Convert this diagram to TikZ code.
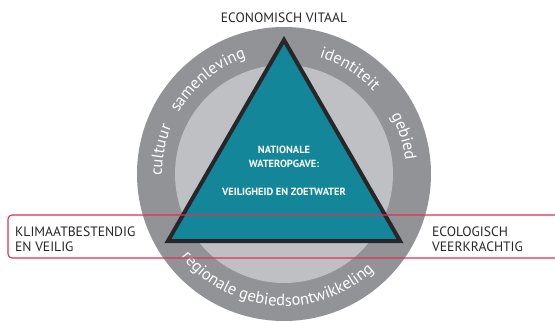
\documentclass[tikz,border=0pt]{standalone}
\usepackage{fontspec}
\setmainfont{PT Sans}
\usetikzlibrary{decorations.text}
\definecolor{ringdark}{RGB}{146,147,151}
\definecolor{ringlight}{RGB}{191,192,196}
\definecolor{watergreen}{RGB}{19,134,153}
\definecolor{framered}{RGB}{222,48,82}
\definecolor{inkgray}{RGB}{40,38,40}
\newcommand{\ringfont}{\fontsize{16.5}{16.5}\selectfont}

\begin{document}
\begin{tikzpicture}[x=1pt,y=1pt,
  lbl/.style={font=\fontsize{13.6}{15}\selectfont,text=inkgray,align=left,inner sep=0pt},
  ringtext/.style={decorate,decoration={text along path,text align=center,
                   text color=white,text={|\ringfont|#1}}},
  frame/.style={draw=framered,line width=1.1pt,rounded corners=4pt}
]
  \useasboundingbox (-284,-148) rectangle (271,174);
  \fill[ringdark] (0,0) circle[radius=147];
  \fill[ringlight] (0,0) circle[radius=109];
  \coordinate (top) at (90:134);
  \coordinate (left) at (210:134);
  \coordinate (right) at (330:134);
  \draw[fill=watergreen,draw=inkgray,line width=4pt,line join=miter] (top) -- (left) -- (right) -- cycle;

  \path[ringtext=cultuur] (209:122) arc[start angle=209,end angle=129,radius=122];
  \path[ringtext=samenleving] (179:122) arc[start angle=179,end angle=79,radius=122];
  \path[ringtext=identiteit] (108:122) arc[start angle=108,end angle=8,radius=122];
  \path[ringtext=gebied] (57:122) arc[start angle=57,end angle=-22,radius=122];
  \path[ringtext=regionale gebiedsontwikkeling] (196:132) arc[start angle=196,end angle=336,radius=132];

  \node[font=\bfseries\fontsize{10.4}{14}\selectfont,text=white,align=center] (task) at (0,3.5)
    {NATIONALE\\WATEROPGAVE:\\[14pt]VEILIGHEID EN ZOETWATER};

  \draw[frame] (-276,-41) rectangle (282,-84);

  \node[lbl,anchor=west] (climate) at (-269,-65.5) {KLIMAATBESTENDIG\\EN VEILIG};
  \node[lbl,anchor=west] (ecology) at (148,-65.5) {ECOLOGISCH\\VEERKRACHTIG};
  \node[lbl,align=center] (economy) at (0,156) {ECONOMISCH VITAAL};
\end{tikzpicture}
\end{document}
